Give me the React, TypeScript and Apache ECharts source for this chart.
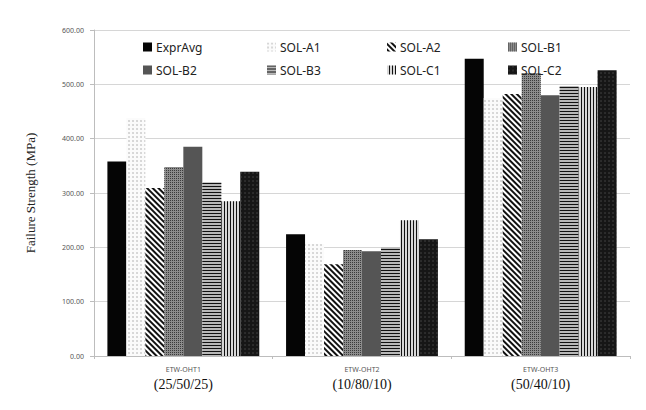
import React, { useEffect, useRef } from "react";
import * as echarts from "echarts";

const categories = ["ETW-OHT1", "ETW-OHT2", "ETW-OHT3"];
const layups = ["(25/50/25)", "(10/80/10)", "(50/40/10)"];
const seriesNames = ["ExprAvg", "SOL-A1", "SOL-A2", "SOL-B1", "SOL-B2", "SOL-B3", "SOL-C1", "SOL-C2"];
const exprAvg = [358, 224, 547];
const solA1 = [438, 206, 475];
const solA2 = [309, 169, 482];
const solB1 = [348, 195, 521];
const solB2 = [385, 193, 480];
const solB3 = [320, 200, 497];
const solC1 = [285, 250, 495];
const solC2 = [339, 215, 526];
const yTicks = [0, 100, 200, 300, 400, 500, 600];

const values = [exprAvg, solA1, solA2, solB1, solB2, solB3, solC1, solC2];

const styles: any[] = [
  { color: "#050505" },
  {
    color: "#fbfbfb",
    decal: { symbol: "circle", symbolSize: 0.8, color: "#c4c4c4", dashArrayX: [1.5, 1.5], dashArrayY: [1.5, 1.5] },
  },
  {
    color: "#ffffff",
    decal: { symbol: "rect", symbolSize: 1, color: "#111", dashArrayX: [1, 0], dashArrayY: [1.6, 1.8], rotation: Math.PI / 4 },
  },
  {
    color: "#8c8c8c",
    decal: { symbol: "rect", symbolSize: 1, color: "#3a3a3a", dashArrayX: [1, 1], dashArrayY: [1, 1] },
  },
  { color: "#555555" },
  {
    color: "#b8b8b8",
    decal: { symbol: "rect", symbolSize: 1, color: "#111", dashArrayX: [1, 0], dashArrayY: [1, 2] },
  },
  {
    color: "#d8d8d8",
    decal: { symbol: "rect", symbolSize: 1, color: "#111", dashArrayX: [1, 0], dashArrayY: [1, 2], rotation: Math.PI / 2 },
  },
  {
    color: "#161616",
    decal: { symbol: "circle", symbolSize: 0.7, color: "#4a4a4a", dashArrayX: [1.5, 1.5], dashArrayY: [1.5, 1.5] },
  },
];

const legendColumns = [
  { left: 138, names: ["ExprAvg", "SOL-B2"] },
  { left: 262, names: ["SOL-A1", "SOL-B3"] },
  { left: 382, names: ["SOL-A2", "SOL-C1"] },
  { left: 503, names: ["SOL-B1", "SOL-C2"] },
];

export default function App() {
  const ref = useRef<HTMLDivElement>(null);
  useEffect(() => {
    if (!ref.current) return;
    const chart = echarts.init(ref.current, undefined, { renderer: "svg" });
    chart.setOption({
      animation: false,
      backgroundColor: "#ffffff",
      grid: { left: 94, right: 16, top: 30, bottom: 54 },
      legend: legendColumns.map((c) => ({
        orient: "vertical",
        left: c.left,
        top: 36,
        itemWidth: 9,
        itemHeight: 9,
        itemGap: 11,
        icon: "rect",
        data: c.names,
        textStyle: { fontFamily: "Noto Sans", fontSize: 12, color: "#222", padding: [0, 0, 0, -1] },
        selectedMode: false,
      })),
      xAxis: {
        type: "category",
        data: categories,
        axisLine: { lineStyle: { color: "#bdbdbd" } },
        axisTick: { show: true, length: 3, lineStyle: { color: "#bdbdbd" } },
        axisLabel: {
          margin: 7,
          formatter: (v: string, i: number) => `{a|${v}}\n{b|${layups[i]}}`,
          rich: {
            a: { fontFamily: "Noto Sans", fontSize: 7, color: "#555", lineHeight: 12 },
            b: { fontFamily: "Liberation Serif", fontSize: 14, color: "#111", lineHeight: 16, padding: [2, 0, 0, 0] },
          },
        },
      },
      yAxis: {
        type: "value",
        min: 0,
        max: 600,
        interval: 100,
        name: "Failure Strength (MPa)",
        nameLocation: "middle",
        nameGap: 57,
        nameTextStyle: { fontFamily: "Liberation Serif", fontSize: 13, color: "#222" },
        axisLine: { show: true, lineStyle: { color: "#bdbdbd" } },
        axisTick: { show: true, length: 4, lineStyle: { color: "#bdbdbd" } },
        splitLine: { lineStyle: { color: "#d6d6d6" } },
        axisLabel: {
          margin: 10,
          fontFamily: "Noto Sans",
          fontSize: 7,
          color: "#555",
          formatter: (v: number) => (yTicks.includes(v) ? v.toFixed(2) : ""),
        },
      },
      series: seriesNames.map((name, i) => ({
        name,
        type: "bar",
        data: values[i],
        barGap: "0%",
        barCategoryGap: "15%",
        itemStyle: styles[i],
      })),
    });
    return () => chart.dispose();
  }, []);
  return <div ref={ref} style={{ width: 646, height: 410, position: "absolute", left: 0, top: 0 }} />;
}
